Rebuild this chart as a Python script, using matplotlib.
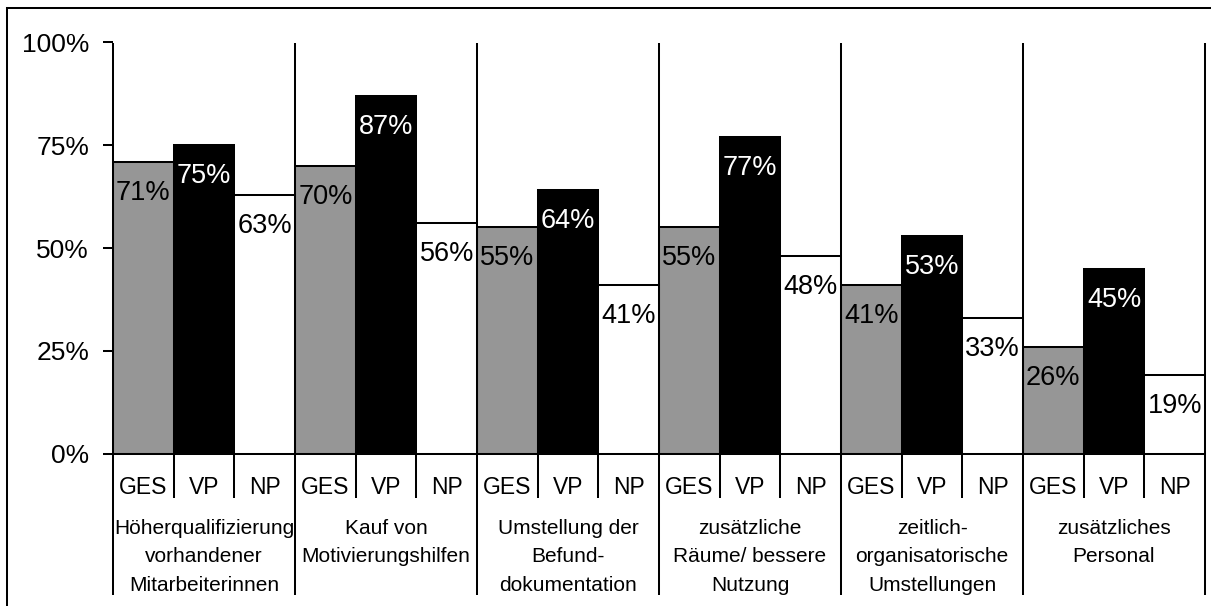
import matplotlib
matplotlib.use("Agg")
import matplotlib.pyplot as plt
from matplotlib.lines import Line2D
import numpy as np

plt.rcParams['font.family'] = ['Liberation Sans', 'DejaVu Sans']

# data
categories = [
    "Höherqualifizierung\nvorhandener\nMitarbeiterinnen",
    "Kauf von\nMotivierungshilfen",
    "Umstellung der\nBefund-\ndokumentation",
    "zusätzliche\nRäume/ bessere\nNutzung",
    "zeitlich-\norganisatorische\nUmstellungen",
    "zusätzliches\nPersonal",
]
series_names = ['GES', 'VP', 'NP']
ges = [71, 70, 55, 55, 41, 26]
vp = [75, 87, 64, 77, 53, 45]
np_ = [63, 56, 41, 48, 33, 19]
y_ticks = [0, 25, 50, 75, 100]

colors = ['#969696', '#000000', '#ffffff']
text_colors = ['black', 'white', 'black']

W, H = 1211, 606
fig = plt.figure(figsize=(W / 100, H / 100), dpi=100)

# axes in pixel terms: left 113, right 1205, 0% at y=453.5, 100% at y=42.5
y0_px, y100_px = 453.5, 42.5
ax_h = y0_px - y100_px
ax = fig.add_axes([113 / W, (H - y0_px) / H, (1205 - 113) / W, ax_h / H])


def ay(px):
    """pixel row -> axes fraction"""
    return (y0_px - px) / ax_h


n = len(categories)
lw = 1.45
for k, (vals, col, tcol) in enumerate(zip([ges, vp, np_], colors, text_colors)):
    xs = np.arange(n) * 3 + k + 0.5
    ax.bar(xs, vals, width=1.0, color=col, edgecolor='black', linewidth=lw, zorder=2)
    for x, v in zip(xs, vals):
        ax.annotate(f'{v}%', xy=(x, v), xytext=(0, -31), textcoords='offset pixels',
                    ha='center', va='center', fontsize=19.5, color=tcol, zorder=3)

ax.set_xlim(0, 3 * n)
ax.set_ylim(0, 100)
for s in ['top', 'right', 'left']:
    ax.spines[s].set_visible(False)
ax.spines['bottom'].set_linewidth(lw)
ax.set_xticks([])
ax.set_yticks(y_ticks)
ax.set_yticklabels([f'{t}%' for t in y_ticks])
ax.tick_params(axis='y', direction='out', length=7.2, width=lw, pad=10, labelsize=19)

trans = ax.get_xaxis_transform()
# group separators, running from 100% down past the category labels
for g in range(n + 1):
    ax.plot([3 * g, 3 * g], [1.0, ay(595)], color='black', lw=lw,
            transform=trans, clip_on=False, zorder=4, solid_capstyle='butt')
# short separators between the series labels
for g in range(n):
    for k in (1, 2):
        ax.plot([3 * g + k] * 2, [0, ay(498)], color='black', lw=lw,
                transform=trans, clip_on=False, zorder=4, solid_capstyle='butt')

for g, cat in enumerate(categories):
    for k, name in enumerate(series_names):
        ax.text(3 * g + k + 0.5, ay(487), name, transform=trans,
                ha='center', va='center', fontsize=16.5)
    ax.text(3 * g + 1.5, ay(519), cat, transform=trans, ha='center', va='top',
            fontsize=15, linespacing=1.62)

# outer frame (only left and top edges show)
fig.add_artist(Line2D([7 / W, 7 / W], [0, (H - 8) / H], color='black', lw=lw,
                      transform=fig.transFigure))
fig.add_artist(Line2D([7 / W, 1], [(H - 8) / H, (H - 8) / H], color='black', lw=lw,
                      transform=fig.transFigure))

fig.savefig('out.png', dpi=100)
